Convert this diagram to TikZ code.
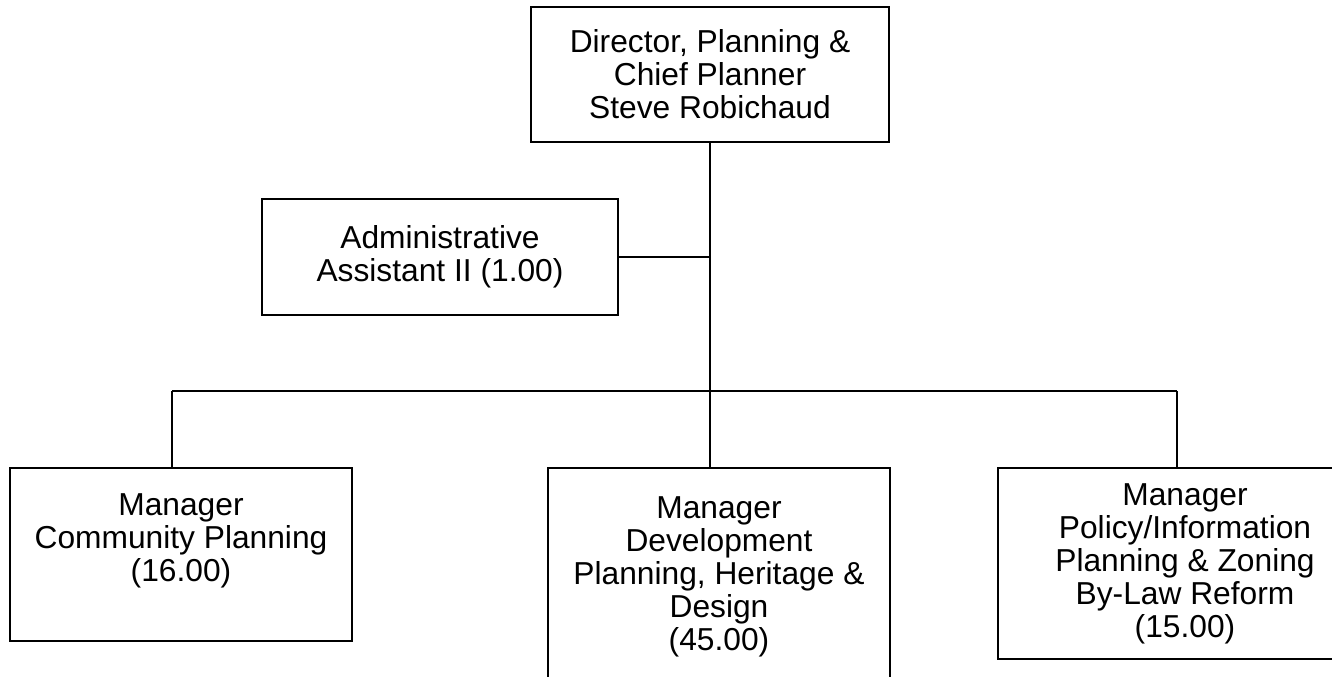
\documentclass[tikz,border=0pt]{standalone}
\usepackage{fontspec}
\setmainfont{Liberation Sans}
\usetikzlibrary{positioning}

\begin{document}
\begin{tikzpicture}[
    x=0.75pt, y=-0.75pt,
    font=\fontsize{23.8pt}{24.75pt}\selectfont,
    box/.style={
        rectangle,
        draw=black,
        line width=1pt,
        fill=white,
        align=center,
        inner sep=0pt
    },
    link/.style={line width=1pt}
]
\useasboundingbox (0,0) rectangle (1332,677);

% top
\node[box, minimum width=268.5pt, minimum height=101.25pt] (director) at (710,74.5)
    {Director, Planning \&\\Chief Planner\\Steve Robichaud};
\node[box, minimum width=267pt, minimum height=87pt] (admin) at (440,257)
    {Administrative\\Assistant II (1.00)};

% managers
\node[box, minimum width=256.5pt, minimum height=129.75pt, text depth=26pt] (community) at (181,554.5)
    {Manager\\Community Planning\\(16.00)};
\node[box, minimum width=256.5pt, minimum height=163.5pt] (development) at (719,577)
    {Manager\\Development\\Planning, Heritage \&\\Design\\(45.00)};
\node[box, minimum width=280.5pt, minimum height=143.25pt] (policy) at (1185,563.5)
    {Manager\\Policy/Information\\Planning \& Zoning\\By-Law Reform\\(15.00)};

% lines
\coordinate (jl) at (172,391);
\coordinate (jr) at (1177,391);
\draw[link] (director.south) -- (director.south |- development.north);
\draw[link] (admin.east) -- (admin.east -| director.south);
\draw[link] (jl) -- (jr);
\draw[link] (jl) -- (jl |- community.north);
\draw[link] (jr) -- (jr |- policy.north);

\end{tikzpicture}
\end{document}
